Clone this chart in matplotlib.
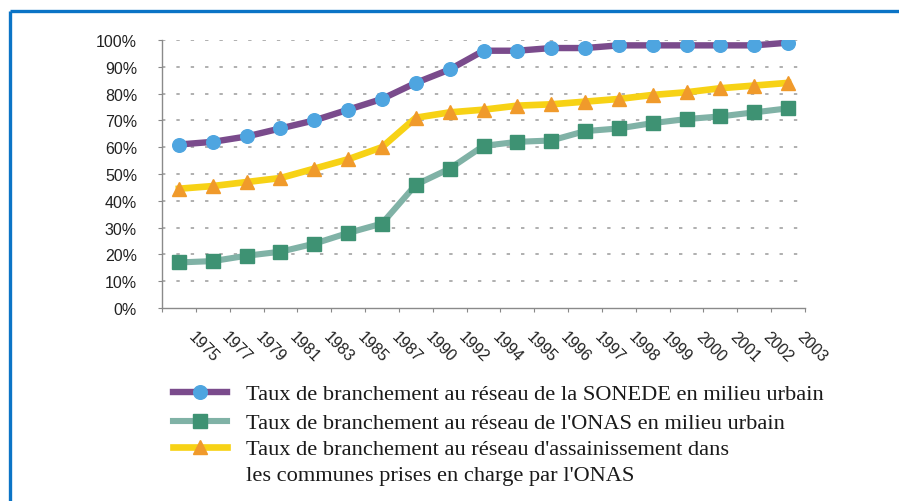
import matplotlib
matplotlib.use("Agg")
import matplotlib.pyplot as plt
from matplotlib.lines import Line2D

years = ['1975', '1977', '1979', '1981', '1983', '1985', '1987', '1990', '1992', '1994',
         '1995', '1996', '1997', '1998', '1999', '2000', '2001', '2002', '2003']
sonede = [61, 62, 64, 67, 70, 74, 78, 84, 89, 96, 96, 97, 97, 98, 98, 98, 98, 98, 99]
onas = [17, 17.5, 19.5, 21, 24, 28, 31.5, 46, 52, 60.5, 62, 62.5, 66, 67, 69, 70.5, 71.5, 73, 74.5]
assain = [44.5, 45.5, 47, 48.5, 52, 55.5, 60, 71, 73, 74, 75.5, 76, 77, 78, 79.5, 80.5, 82, 83, 84]
yticks = [0, 10, 20, 30, 40, 50, 60, 70, 80, 90, 100]
labels = ["Taux de branchement au réseau de la SONEDE en milieu urbain",
          "Taux de branchement au réseau de l'ONAS en milieu urbain",
          "Taux de branchement au réseau d'assainissement dans\nles communes prises en charge par l'ONAS"]

W, H = 899, 502
fig = plt.figure(figsize=(W / 100, H / 100), dpi=100)
fig.patch.set_facecolor('white')

ax = fig.add_axes([162 / W, 1 - 309 / H, (805 - 162) / W, (309 - 41) / H])

styles = [
    dict(color='#7a4b8c', lw=4.6, marker='o', ms=9.8, mfc='#4ea5e0', mec='#4ea5e0'),
    dict(color='#80b2a6', lw=4.4, marker='s', ms=10, mfc='#3e9273', mec='#3e9273'),
    dict(color='#f7d215', lw=4.8, marker='^', ms=10.5, mfc='#f09a2b', mec='#f09a2b'),
]
xs = list(range(len(years)))
for vals, st in zip([sonede, onas, assain], styles):
    ax.plot(xs, vals, solid_joinstyle='round', **st, zorder=3)

ax.set_xlim(-0.5, len(years) - 0.5)
ax.set_ylim(0, 100)
ax.set_yticks(yticks)
ax.set_yticklabels([f"{v}%" for v in yticks], fontfamily='Liberation Sans', fontsize=11.5, color='#222222')
bounds = [i - 0.5 for i in range(len(years) + 1)]
ax.set_xticks(bounds)
ax.set_xticklabels([''] + years, fontfamily='Liberation Sans', fontsize=11.5, color='#222222',
                   rotation=-45, ha='left', va='top', rotation_mode='anchor')
ax.tick_params(axis='y', length=3, width=0.8, color='#888888', pad=15)
ax.tick_params(axis='x', length=3, width=0.8, color='#888888', pad=12)

for v in yticks[1:]:
    ax.axhline(v, color='#9a9a9a', lw=1.1, ls=(0, (2.2, 7.2)), zorder=1)

for s in ['top', 'right']:
    ax.spines[s].set_visible(False)
for s in ['left', 'bottom']:
    ax.spines[s].set_color('#8a8a8a')
    ax.spines[s].set_linestyle((0, (1, 1)))
    ax.spines[s].set_linewidth(1.0)

# blue frame
fig.add_artist(Line2D([9.5 / W, 1.01], [1 - 11.5 / H, 1 - 11.5 / H], transform=fig.transFigure,
                      color='#0b74c6', lw=2.4, solid_capstyle='butt'))
fig.add_artist(Line2D([9.5 / W, 9.5 / W], [1 - 11.5 / H, -0.01], transform=fig.transFigure,
                      color='#0b74c6', lw=2.4, solid_capstyle='butt'))

# legend
rows_y = [393, 422, 448]
for yy, st, lab in zip(rows_y, styles, labels):
    yf = 1 - yy / H
    fig.add_artist(Line2D([173 / W, 227 / W], [yf, yf], transform=fig.transFigure,
                          color=st['color'], lw=st['lw']))
    fig.add_artist(Line2D([200 / W], [yf], transform=fig.transFigure, ls='none',
                          marker=st['marker'], ms=st['ms'], mfc=st['mfc'], mec=st['mec']))
    for k, line in enumerate(lab.split('\n')):
        fig.text(246 / W, 1 - (yy + 26 * k) / H, line, fontfamily='Liberation Serif',
                 fontsize=16.1, color='#1a1a1a', ha='left', va='center_baseline')

fig.savefig('out.png', dpi=100, facecolor='white')
